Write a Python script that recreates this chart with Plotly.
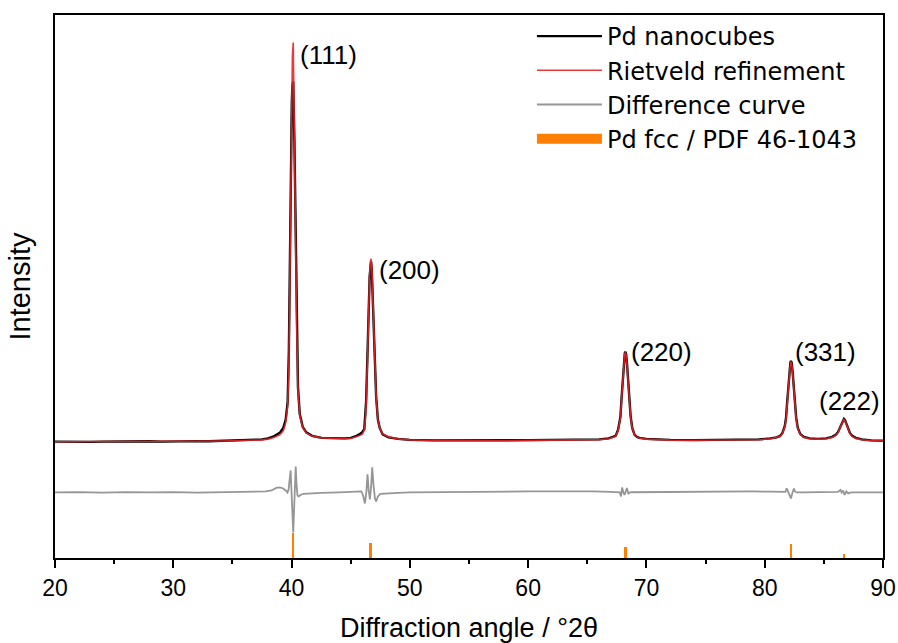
import plotly.graph_objects as go

# ---------------- data (intensity in arbitrary units, baseline = 0) ----------------
two_theta = [20, 21, 22, 23, 24, 25, 26, 27, 28, 29, 30, 31, 32, 33, 34, 35, 36, 37, 37.5, 38.0,
             38.5, 39.0, 39.3, 39.5, 39.67, 39.77, 39.82, 39.92, 40.02, 40.07, 40.14, 40.24, 40.35,
             40.44, 40.54, 40.69, 40.94, 41.24, 41.74, 42.54, 43.54, 44.5, 45.0, 45.5, 45.8, 46.0,
             46.15, 46.2, 46.3, 46.4, 46.5, 46.6, 46.68, 46.72, 46.78, 46.88, 46.98, 47.05, 47.15,
             47.3, 47.45, 47.7, 48.2, 49, 50, 52, 54, 56, 58, 60, 62, 64, 65, 66, 66.8, 67.0, 67.4,
             67.6, 67.7, 67.8, 67.9, 68.0, 68.1, 68.17, 68.22, 68.28, 68.36, 68.46, 68.56, 68.66,
             68.8, 69.0, 69.2, 69.4, 70, 71, 72, 74, 76, 78, 79.5, 80.5, 81.0, 81.3, 81.5, 81.7, 81.8,
             81.9, 82.0, 82.1, 82.17, 82.22, 82.28, 82.36, 82.46, 82.56, 82.66, 82.8, 83.0, 83.3,
             83.8, 84.5, 85.2, 85.7, 86.0, 86.2, 86.35, 86.5, 86.62, 86.7, 86.78, 86.9, 87.05, 87.2,
             87.4, 87.7, 88.2, 89, 90]

observed = [0.3, 0.1, 0.4, 0.0, 0.3, 0.5, 0.2, 0.4, 0.6, 0.3, 0.6, 0.5, 0.8, 0.7, 1.0, 1.2, 1.5, 2.0, 2.5, 3.5,
            5.5, 9, 14, 22, 40, 90, 150, 270, 340, 356, 360, 300, 220,
            120, 55, 28, 15, 9.5, 6, 4, 3.5, 3.5, 4, 6, 8, 10,
            13, 20, 40, 80, 130, 165, 176, 180, 172, 140, 105, 85, 45,
            22, 14, 7.5, 4.5, 3, 2, 1.5, 1.3, 1.4, 1.6, 1.8, 1.8, 2.0, 2.2, 2.5, 3.5, 4.5, 6,
            12, 17, 25, 44, 65, 82, 88.5, 90, 88, 78, 58, 42, 26,
            14, 7, 5, 4, 3, 2.2, 2.0, 1.8, 1.8, 2.0, 2.5, 3.5, 4.5, 6, 9, 16, 24,
            40, 58, 73, 79, 81, 79, 70, 54, 38, 24, 14, 8, 5,
            3.5, 3, 3.5, 5, 7, 10, 14, 19, 22.5, 23, 22, 18, 13, 9,
            6, 4, 2.5, 1.5, 1.2]

calculated = [0.2, 0.2, 0.3, 0.2, 0.3, 0.3, 0.4, 0.4, 0.5, 0.5, 0.6, 0.6, 0.7, 0.8, 0.9, 1.1, 1.3, 1.7, 2.0, 2.8,
              4.3, 7, 11, 19, 36, 75, 135, 248, 345, 385, 399, 320, 194,
              110, 52, 27, 14.5, 9, 5.8, 4, 3.4, 3.3, 3.5, 5, 6.5, 8,
              12, 17, 36, 75, 128, 168, 181, 183, 176, 138, 100, 78, 44,
              22, 14, 8, 5, 3, 2, 1.4, 1.2, 1.2, 1.4, 1.5, 1.6, 1.8, 2.0, 2.3, 3.2, 4, 5.5,
              11, 16, 24, 43, 65, 82, 88.5, 89, 87, 77, 57, 41, 25,
              13.5, 7, 5, 3.8, 2.8, 2.0, 1.8, 1.6, 1.6, 1.8, 2.2, 3.2, 4.2, 5.5, 8.5, 15, 23,
              39, 57, 72, 78.5, 80, 78, 69, 53, 37, 23, 13.5, 7.5, 4.5,
              3.2, 2.8, 3.2, 4.5, 6.5, 9.5, 13.5, 18.5, 22, 23, 21.5, 17.5, 12.5, 8.5,
              5.5, 3.5, 2.2, 1.3, 1.0]

diff_theta = [20, 22, 24, 26, 28, 30, 32, 34, 36, 37, 37.8, 38.3, 38.7, 39.0, 39.3, 39.5, 39.65,
              39.75, 39.85, 39.92, 39.98, 40.06, 40.14, 40.22, 40.28, 40.35, 40.42, 40.5, 40.6,
              40.75, 41.0, 41.5, 42.5, 44, 45, 45.6, 45.9, 46.05, 46.2, 46.32, 46.42, 46.52, 46.62,
              46.72, 46.82, 46.92, 47.05, 47.15, 47.3, 47.5, 48, 49, 50, 52, 54, 56, 58, 60, 62, 64,
              65.5, 67, 67.75, 67.85, 67.95, 68.05, 68.15, 68.25, 68.35, 68.47, 68.6, 68.75, 69.5,
              71, 73, 75, 77, 79, 80.5, 81.5, 81.75, 81.86, 82.0, 82.12, 82.22, 82.35, 82.47, 82.56,
              82.7, 83.2, 84.5, 86.2, 86.4, 86.5, 86.62, 86.75, 86.9, 87.05, 87.3, 88.5, 90]
difference = [0.0, 0.4, -0.2, 0.3, 0.0, 0.4, -0.2, 0.3, 0.5, 0.6, 1.0, 2.0, 4.5, 5.0, 4.0, 2.0, 0.0,
              3, 12, 22, 5, -25, -40, -15, 10, 26, 8, -3, -4,
              -2.5, -1.5, -1.0, -0.5, 0.0, 0.8, 1.5, 1.0, -3, -11, 0, 18, 2, -7,
              5, 25, 8, -6, -9, -4, -1.5, -1.0, -0.5, 0.0, 0.3, 0.0, 0.5, 0.8, 1.0, 1.0, 1.2,
              1.0, 0.5, 0.0, -4, 5, 0, -2.5, 1, 4.5, -1, 0.0, 0.2, 0.3,
              0.0, 0.2, 0.5, 0.8, 1.0, 0.8, 0.5, 0.5, 4, 0, -3, -6, 0, 4, 1,
              0.0, 0.0, 0.2, 0.5, 2.5, 0, 2, -2.5, 1.0, -1.0, 0.0, 0.0, 0.0]

ref_theta = [40.12, 46.68, 68.22, 82.22, 86.70]
ref_intensity = [24.6, 15, 10.7, 14, 4]
hkl_labels = ["(111)", "(200)", "(220)", "(331)", "(222)"]

diff_offset = -50.5
axis_bottom = -116
axis_top = 426.5

FONT = "Arial, Liberation Sans, sans-serif"
LEGEND_FONT = "DejaVu Sans, Arial, sans-serif"

fig = go.Figure()
fig.add_trace(go.Scatter(x=two_theta, y=observed, mode="lines", name="Pd nanocubes",
                         line=dict(color="black", width=2.4)))
fig.add_trace(go.Scatter(x=two_theta, y=calculated, mode="lines", name="Rietveld refinement",
                         line=dict(color="rgba(232,36,40,0.9)", width=1.6)))
fig.add_trace(go.Scatter(x=diff_theta, y=[d + diff_offset for d in difference], mode="lines",
                         name="Difference curve", line=dict(color="rgb(150,150,150)", width=1.8)))
fig.add_trace(go.Bar(x=ref_theta, y=ref_intensity, base=axis_bottom, width=0.22,
                     marker=dict(color="#FF8000", line=dict(width=0)), showlegend=False,
                     name="Pd fcc / PDF 46-1043"))
fig.add_trace(go.Scatter(x=[None], y=[None], mode="lines", name="Pd fcc / PDF 46-1043",
                         line=dict(color="#FF8000", width=20)))

label_pos = [(40.55, 386.5), (47.2, 171.5), (68.52, 89.5), (82.39, 89.5), (84.42, 40.5)]
for lab, (lx, ly) in zip(hkl_labels, label_pos):
    fig.add_annotation(x=lx, y=ly, text=lab, showarrow=False, xanchor="left", yanchor="middle",
                       font=dict(size=26, color="black", family=FONT))

fig.update_layout(
    width=898, height=643,
    margin=dict(l=55, r=15, t=15, b=85),
    plot_bgcolor="white", paper_bgcolor="white",
    font=dict(family=FONT, color="black"),
    showlegend=True,
    legend=dict(x=0.576, y=1.0018, xanchor="left", yanchor="top", bgcolor="rgba(0,0,0,0)",
                font=dict(size=24, family=LEGEND_FONT), itemwidth=65, tracegroupgap=0),
    bargap=0,
)
fig.update_xaxes(range=[20, 90], showline=True, linecolor="black", linewidth=1.8, mirror=True,
                 ticks="outside", ticklen=8, tickwidth=1.5, tickcolor="black", dtick=10, tick0=20,
                 minor=dict(ticks="outside", ticklen=4, tickwidth=1.5, dtick=5, tickcolor="black"),
                 showgrid=False, zeroline=False, tickfont=dict(size=23, family=FONT),
                 automargin=False,
                 title=dict(text="Diffraction angle / °2θ", font=dict(size=27, family=FONT), standoff=22))
fig.update_yaxes(range=[axis_bottom, axis_top], showline=True, linecolor="black", linewidth=1.8,
                 mirror=True, showticklabels=False, ticks="", showgrid=False, zeroline=False,
                 automargin=False,
                 title=dict(text="Intensity", font=dict(size=29, family=FONT), standoff=14))

fig.write_html("out.html")
